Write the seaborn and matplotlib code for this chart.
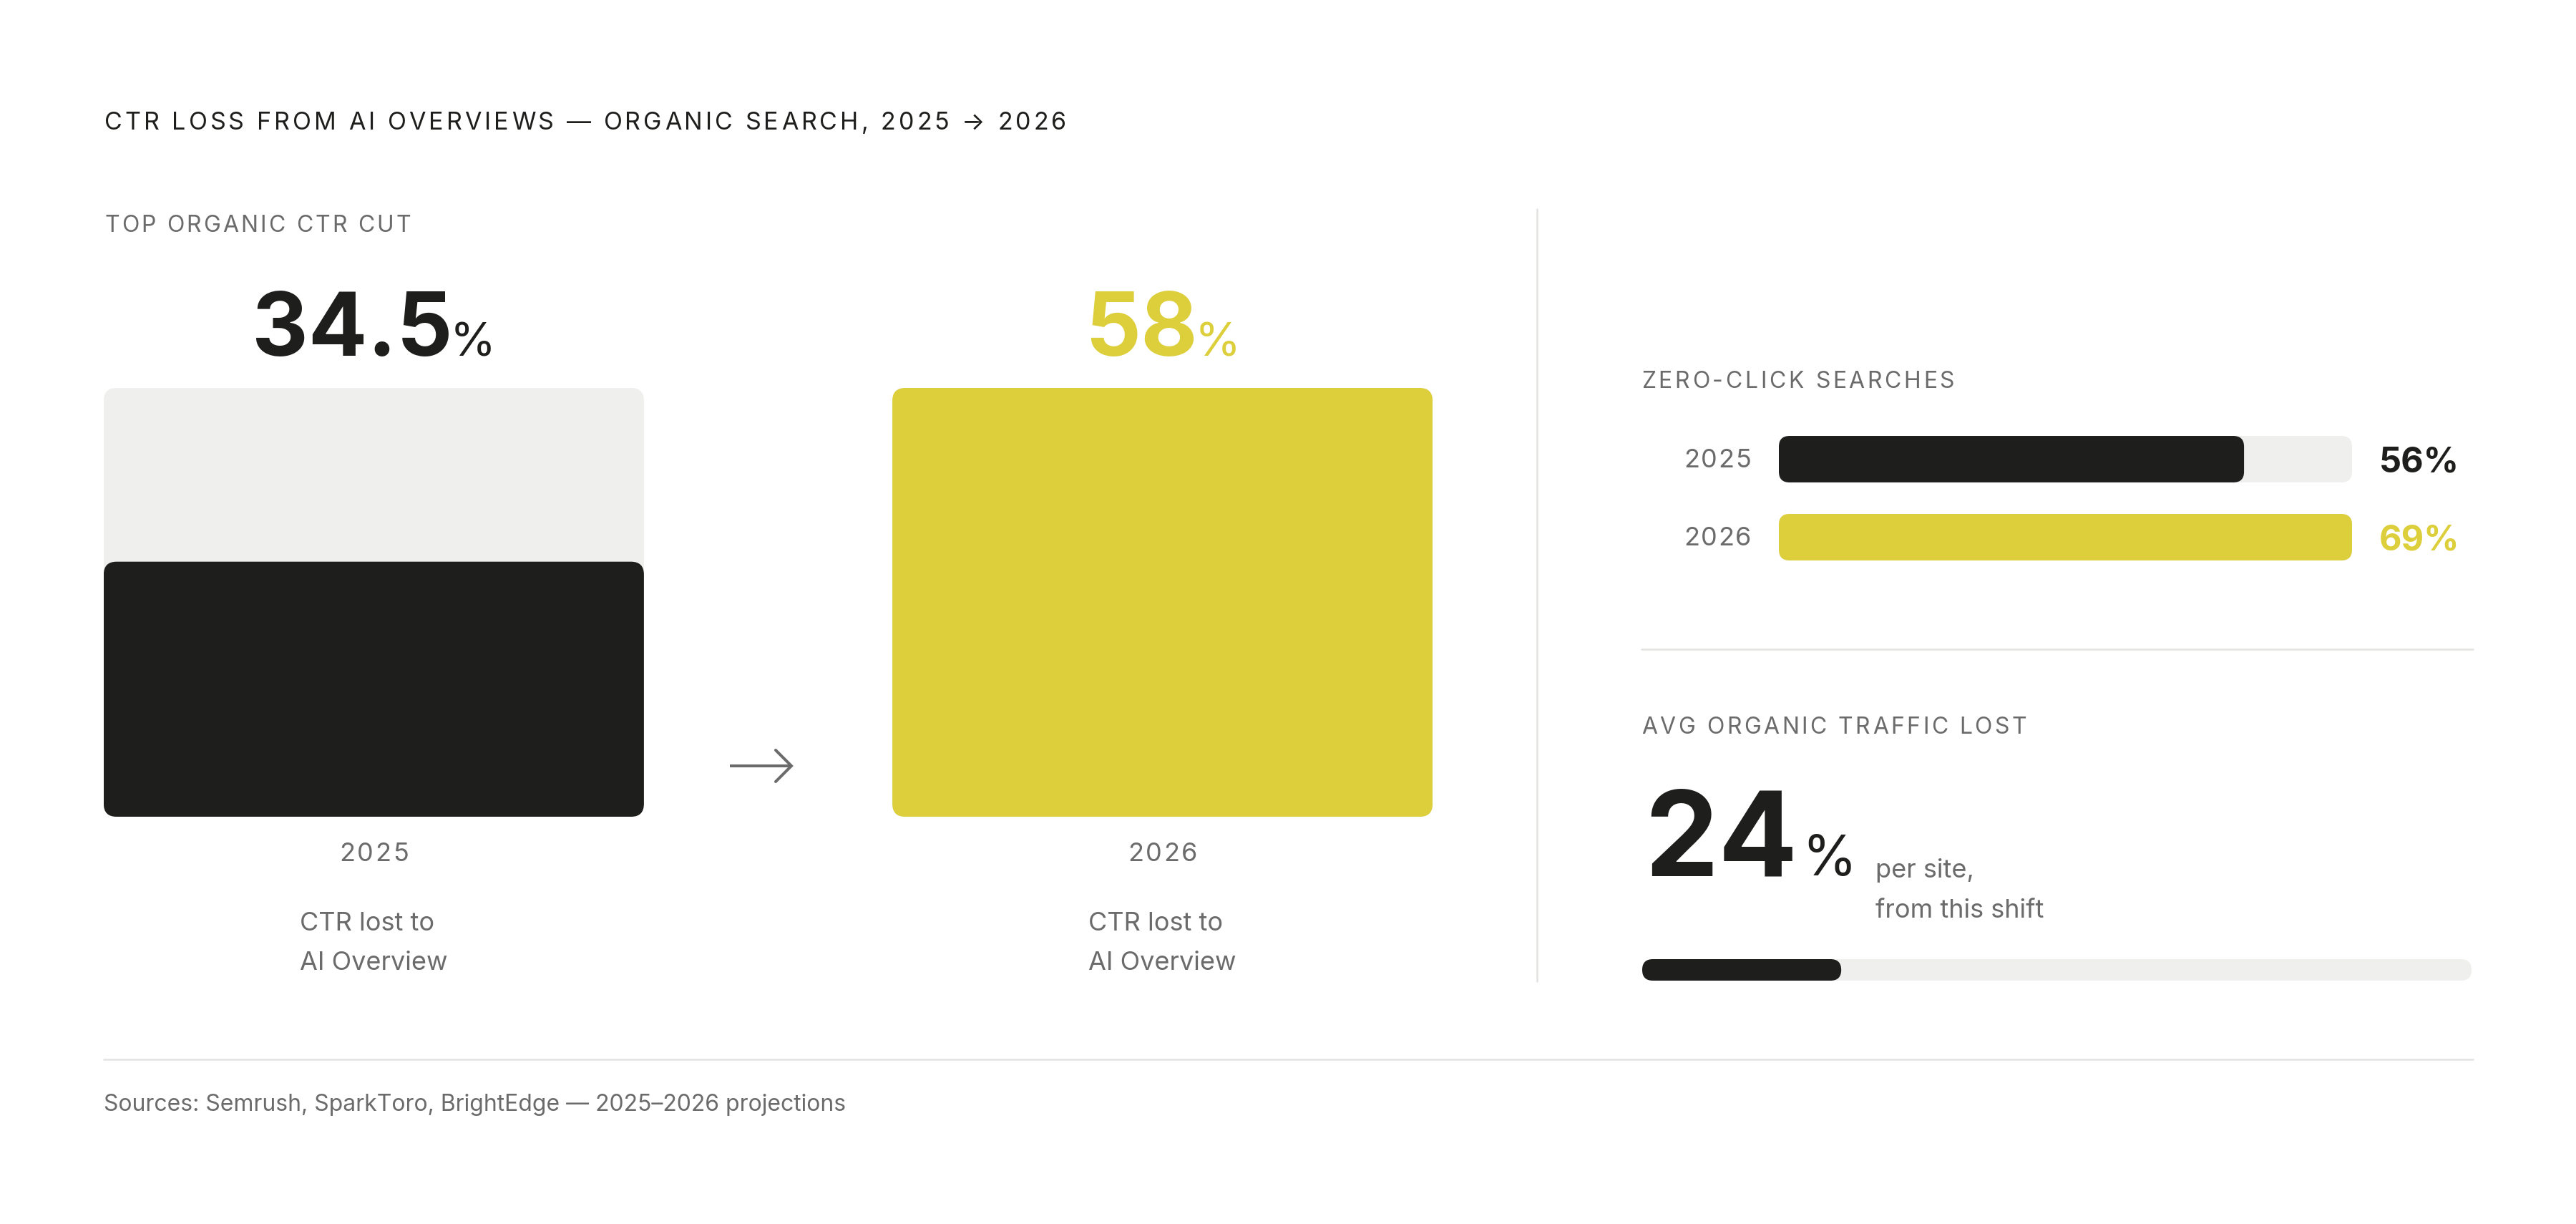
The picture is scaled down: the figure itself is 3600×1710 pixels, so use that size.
import matplotlib
matplotlib.use("Agg")
import matplotlib.pyplot as plt
from matplotlib.patches import FancyBboxPatch
import pandas as pd
import seaborn as sns

# data
years = ["2025", "2026"]
ctr_cut = [34.5, 58]        # top organic CTR lost to AI Overview, %
zero_click = [56, 69]       # zero-click searches, %
traffic_lost = [24]         # avg organic traffic lost per site, %

title = "CTR LOSS FROM AI OVERVIEWS \u2014 ORGANIC SEARCH, 2025 \u2192 2026"
source = "Sources: Semrush, SparkToro, BrightEdge \u2014 2025\u20132026 projections"

DARK = "#1e1e1c"
YELLOW = "#dccf3b"
TRACK = "#efefed"
GREY = "#6b6b6b"
RULE = "#e2e2e0"

W, H = 3600, 1710
sns.set_theme(style="white")
plt.rcParams["font.family"] = ["Inter", "DejaVu Sans"]

fig = plt.figure(figsize=(W / 100, H / 100), dpi=100, facecolor="white")
rend = fig.canvas.get_renderer()


def add_ax(x0, y0, x1, y1):
    # pixel box (top-left origin) -> figure axes
    return fig.add_axes([x0 / W, 1 - y1 / H, (x1 - x0) / W, (y1 - y0) / H])


bg = add_ax(0, 0, W, H)
bg.set_xlim(0, W)
bg.set_ylim(H, 0)
bg.set_axis_off()


def width(s, **kw):
    t = bg.text(0, 0, s, **kw)
    w = t.get_window_extent(rend).width
    t.remove()
    return w


def tracked(x, y, s, target, ha="left", **kw):
    # letter-spaced text stretched to a target width
    track = (target - width(s, **kw)) / (len(s) - 1)
    x0 = {"left": x, "center": x - target / 2, "right": x - target}[ha]
    for i, ch in enumerate(s):
        if ch == " ":
            continue
        left = width(s[:i + 1], **kw) - width(ch, **kw)
        bg.text(x0 + left + i * track, y, ch, va="baseline", ha="left", **kw)


def to_px(ax, x, y):
    return bg.transData.inverted().transform(ax.transData.transform((x, y)))


def round_bars(ax, radius):
    t = ax.transData
    sx = abs(t.transform((1, 0))[0] - t.transform((0, 0))[0])
    sy = abs(t.transform((0, 1))[1] - t.transform((0, 0))[1])
    for p in list(ax.patches):
        x, y = p.get_xy()
        w, h = p.get_width(), p.get_height()
        fc, z = p.get_facecolor(), p.get_zorder()
        p.remove()
        ax.add_patch(FancyBboxPatch(
            (x, y), w, h, boxstyle=f"round,pad=0,rounding_size={radius / sx}",
            mutation_aspect=sx / sy, facecolor=fc, edgecolor="none", zorder=z))


# ---- big vertical bars: top organic CTR cut
ax1 = add_ax(145, 542, 2002, 1141)
df1 = pd.DataFrame({"year": years, "ctr": ctr_cut, "track": max(ctr_cut)})
sns.barplot(data=df1, x="year", y="track", color=TRACK, width=0.685,
            saturation=1, linewidth=0, ax=ax1)
sns.barplot(data=df1, x="year", y="ctr", hue="year", palette=[DARK, YELLOW],
            width=0.685, saturation=1, linewidth=0, dodge=False, legend=False,
            ax=ax1)
ax1.set_xlim(-0.3424, 1.3424)
ax1.set_ylim(0, max(ctr_cut))
ax1.set_axis_off()
round_bars(ax1, 18)

for i, (yr, v, c) in enumerate(zip(years, ctr_cut, [DARK, YELLOW])):
    cx, top = to_px(ax1, i, max(ctr_cut))
    num = f"{v:g}"
    wn = width(num, fontsize=88, fontweight="bold")
    wp = width("%", fontsize=47)
    gap = -4
    x0 = cx - (wn + gap + wp) / 2
    bg.text(x0, top - 45, num, fontsize=88, fontweight="bold", color=c, va="baseline")
    bg.text(x0 + wn + gap, top - 45, "%", fontsize=47, color=c, va="baseline")
    _, bot = to_px(ax1, i, 0)
    tracked(cx, bot + 62, yr, 97, ha="center", fontsize=26, color=GREY)
    lines = ["CTR lost to", "AI Overview"]
    lx = cx - max(width(s, fontsize=26) for s in lines) / 2
    for k, s in enumerate(lines):
        bg.text(lx, bot + 159 + 55 * k, s, fontsize=26, color=GREY, va="baseline")

# arrow between the two bars
bg.plot([1020, 1106], [1070, 1070], color=GREY, lw=2.9, solid_capstyle="butt")
bg.plot([1084, 1106, 1084], [1048, 1070, 1092], color=GREY, lw=2.9,
        solid_joinstyle="miter")

tracked(146, 181, title, 1344, fontsize=24.5, color=DARK)
tracked(146, 324, "TOP ORGANIC CTR CUT", 428, fontsize=23, color=GREY)

# divider between panels
bg.plot([2148, 2148], [292, 1371], color=RULE, lw=1.8)

# ---- zero-click searches
tracked(2294, 542, "ZERO-CLICK SEARCHES", 437, fontsize=23, color=GREY)
ax2 = add_ax(2486, 580, 3287, 810)
df2 = pd.DataFrame({"year": years, "share": zero_click, "track": max(zero_click)})
sns.barplot(data=df2, y="year", x="track", color=TRACK, orient="h",
            width=0.596, saturation=1, linewidth=0, ax=ax2)
sns.barplot(data=df2, y="year", x="share", hue="year", palette=[DARK, YELLOW],
            orient="h", width=0.596, saturation=1, linewidth=0, dodge=False,
            legend=False, ax=ax2)
ax2.set_xlim(0, max(zero_click))
ax2.set_ylim(1 + 59.5 / 109, -61.5 / 109)
ax2.set_axis_off()
round_bars(ax2, 15)

for i, (yr, v, c) in enumerate(zip(years, zero_click, [DARK, YELLOW])):
    xr, cy = to_px(ax2, max(zero_click), i)
    tracked(2447, cy + 11.5, yr, 94, ha="right", fontsize=26, color=GREY)
    bg.text(xr + 38, cy + 18, f"{v}%", fontsize=35, fontweight="bold",
            color=c, va="baseline")

bg.plot([2294, 3456], [907, 907], color=RULE, lw=1.8)

# ---- avg organic traffic lost
tracked(2294, 1025, "AVG ORGANIC TRAFFIC LOST", 538, fontsize=23, color=GREY)
num = f"{traffic_lost[0]}"
wn = width(num, fontsize=118, fontweight="bold")
bg.text(2298, 1223, num, fontsize=118, fontweight="bold", color=DARK, va="baseline")
bg.text(2298 + wn + 6, 1223, "%", fontsize=56, color=DARK, va="baseline")
bg.text(2621, 1226, "per site,", fontsize=26, color=GREY, va="baseline")
bg.text(2621, 1282, "from this shift", fontsize=26, color=GREY, va="baseline")

ax3 = add_ax(2295, 1340, 3454, 1370)
df3 = pd.DataFrame({"k": ["site"], "lost": traffic_lost, "track": [100]})
sns.barplot(data=df3, y="k", x="track", color=TRACK, orient="h", width=1,
            saturation=1, linewidth=0, ax=ax3)
sns.barplot(data=df3, y="k", x="lost", color=DARK, orient="h", width=1,
            saturation=1, linewidth=0, ax=ax3)
ax3.set_xlim(0, 100)
ax3.set_ylim(0.5, -0.5)
ax3.set_axis_off()
round_bars(ax3, 15)

# footer
bg.plot([145, 3456], [1480, 1480], color=RULE, lw=1.8)
bg.text(145, 1552, source, fontsize=23, color=GREY, va="baseline")

fig.savefig("out.png", dpi=100, facecolor="white")
